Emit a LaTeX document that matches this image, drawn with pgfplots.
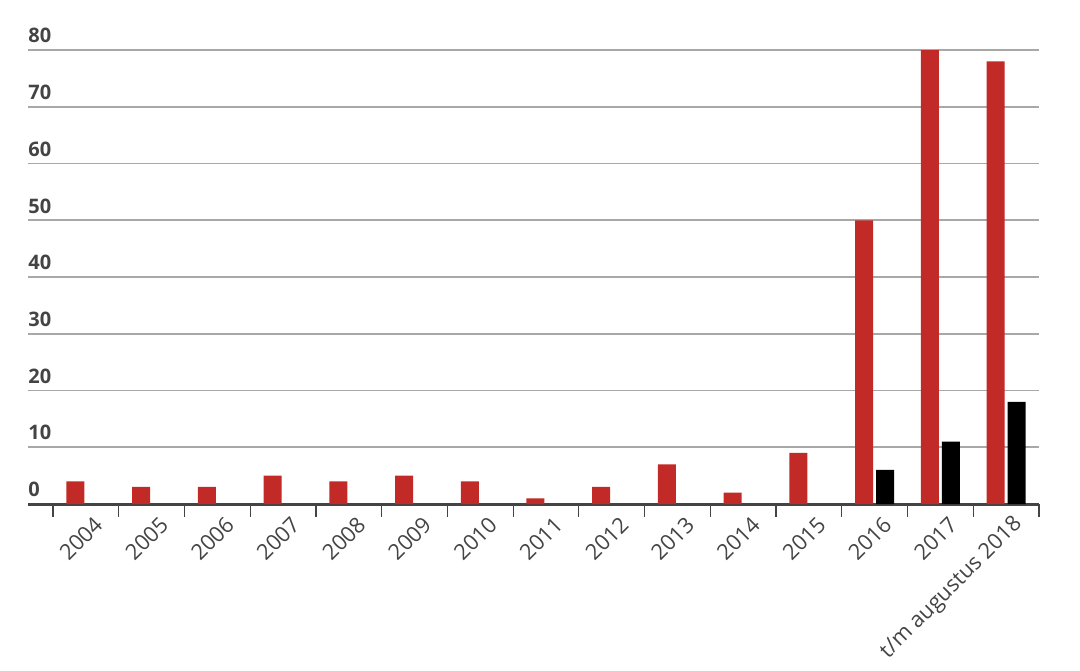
\documentclass[border=0pt]{standalone}
\usepackage{fontspec}
\setmainfont{Open Sans}
\usepackage{pgfplots}
\pgfplotsset{compat=1.18}

\definecolor{barred}{HTML}{C12A26}
\definecolor{txtgray}{HTML}{444444}
\definecolor{gridgray}{HTML}{A8A8A8}

\begin{document}
\begin{tikzpicture}
\begin{axis}[
    name=ax,
    scale only axis,
    width=505.5pt, height=227pt,
    ybar=1.5pt, bar width=9pt,
    xmin=-0.88, xmax=14.5,
    ymin=0, ymax=80,
    ytick={0,10,...,80},
    xtick={0,...,14},
    xticklabels={2004,2005,2006,2007,2008,2009,2010,2011,2012,2013,2014,2015,2016,2017,t/m augustus 2018},
    minor xtick={-0.5,0.5,...,14.5},
    axis x line*=bottom, axis y line*=left,
    y axis line style={draw=none},
    x axis line style={line width=1.5pt, color=txtgray, -},
    tick align=outside,
    major tick length=0pt,
    minor tick length=6.3pt,
    minor tick style={line width=0.6pt, color=txtgray},
    ymajorgrids,
    major grid style={line width=0.8pt, color=gridgray},
    /pgf/number format/assume math mode=true,
    yticklabel style={anchor=south west, inner xsep=0pt, font=\fontsize{10}{12}\selectfont\bfseries, text=txtgray},
    xticklabel style={rotate=45, anchor=east, font=\fontsize{10.9}{12}\selectfont, text=txtgray, xshift=2pt, yshift=-10.5pt},
]
\addplot[fill=barred, draw=none] coordinates {
  (0,4) (1,3) (2,3) (3,5) (4,4) (5,5) (6,4) (7,1) (8,3) (9,7) (10,2) (11,9) (12,50) (13,80) (14,78)};
\addplot[fill=black, draw=none] coordinates {
  (12,6) (13,11) (14,18)};
\end{axis}
\pgfresetboundingbox
\path[use as bounding box] ([shift={(-14pt,-83pt)}]ax.south west) rectangle ([shift={(526pt,252pt)}]ax.south west);
\end{tikzpicture}
\end{document}
